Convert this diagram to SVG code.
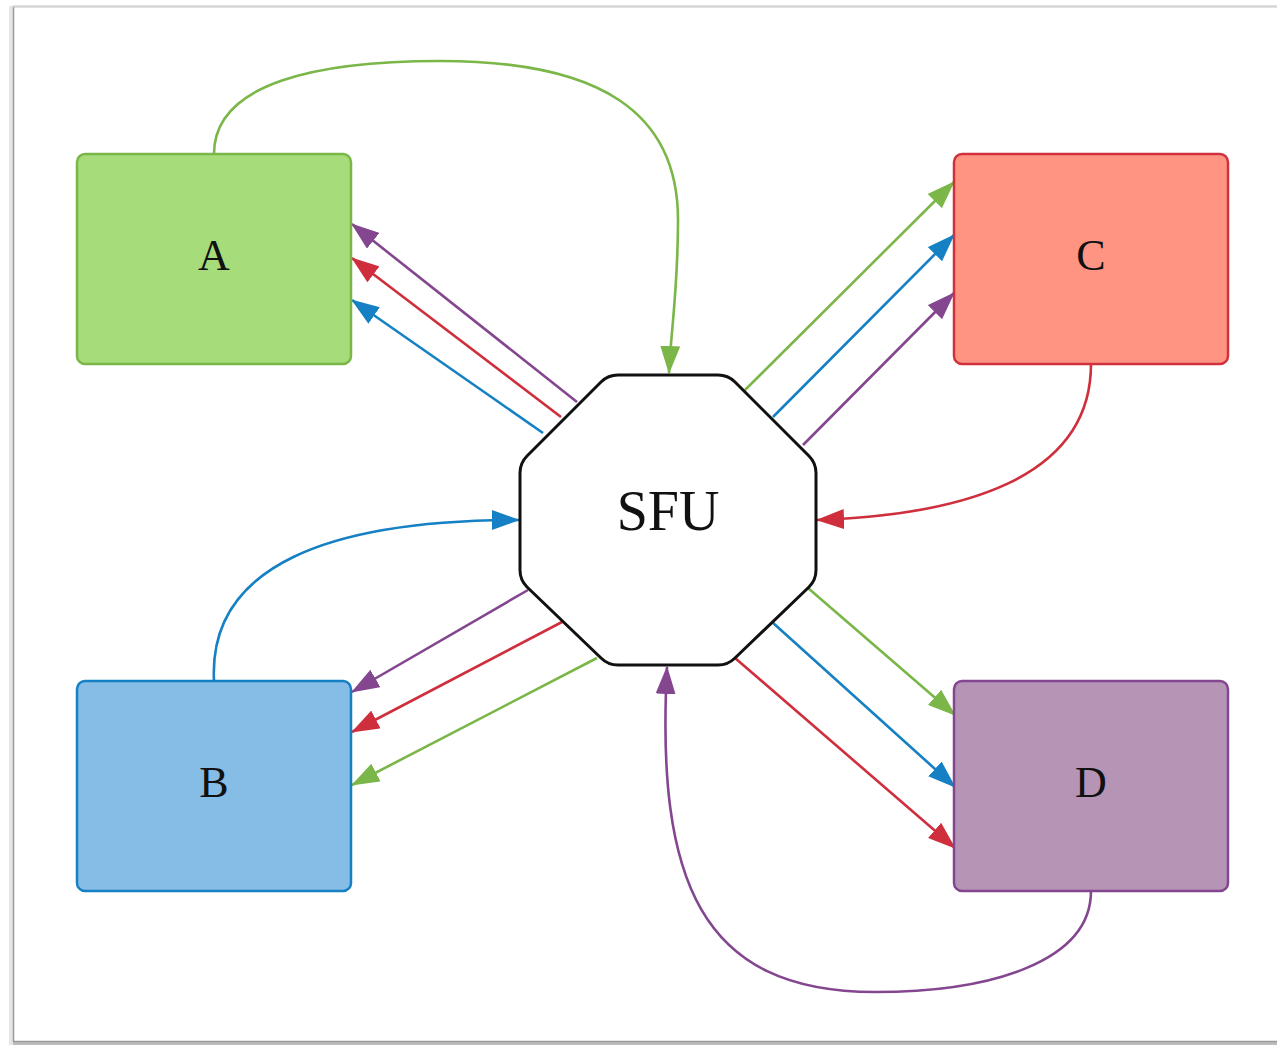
<svg xmlns="http://www.w3.org/2000/svg" width="1277" height="1045" viewBox="0 0 1277 1045">
<style>
.lbl{font-family:"Liberation Serif","Times New Roman",serif;fill:#111;text-anchor:middle}
.node{stroke-width:2.5}
.e{fill:none;stroke-width:2.6}
.g{stroke:#7ab648}.r{stroke:#cf2e3c}.b{stroke:#1580c3}.p{stroke:#83468f}
</style>
<defs>
<marker id="mg" viewBox="0 0 28 20" refX="27" refY="10" markerWidth="28" markerHeight="20" markerUnits="userSpaceOnUse" orient="auto"><path d="M0,0 L28,10 L0,20 z" fill="#7ab648"/></marker>
<marker id="mr" viewBox="0 0 28 20" refX="27" refY="10" markerWidth="28" markerHeight="20" markerUnits="userSpaceOnUse" orient="auto"><path d="M0,0 L28,10 L0,20 z" fill="#cf2e3c"/></marker>
<marker id="mb" viewBox="0 0 28 20" refX="27" refY="10" markerWidth="28" markerHeight="20" markerUnits="userSpaceOnUse" orient="auto"><path d="M0,0 L28,10 L0,20 z" fill="#1580c3"/></marker>
<marker id="mp" viewBox="0 0 28 20" refX="27" refY="10" markerWidth="28" markerHeight="20" markerUnits="userSpaceOnUse" orient="auto"><path d="M0,0 L28,10 L0,20 z" fill="#83468f"/></marker>
</defs>
<rect x="0" y="0" width="1277" height="1045" fill="#ffffff"/>
<g id="frame">
<rect x="9" y="6" width="4" height="1040" fill="#e6e6e6"/>
<rect x="13" y="1042" width="1264" height="3" fill="#bdbdbd"/>
<rect x="13.5" y="6.5" width="1270" height="1035" fill="#ffffff" stroke="#9a9a9a" stroke-width="1.5"/>
<line x1="13" y1="6.5" x2="1277" y2="6.5" stroke="#d4d4d4" stroke-width="1.5"/>
</g>
<g id="connectors">
<path class="e g" d="M214,154 C214,82 320,61 440,61 C600,61 678,112 678,220 C678,290 671,330 669,373" marker-end="url(#mg)"/>
<path class="e r" d="M1091,364 C1091,480 960,515 817,520" marker-end="url(#mr)"/>
<path class="e b" d="M214,681 C208,565 330,520 519,520" marker-end="url(#mb)"/>
<path class="e p" d="M1091,891 C1091,962 990,992 875,992 C700,992 656,880 667,667" marker-end="url(#mp)"/>
<line class="e p" x1="577" y1="402" x2="352" y2="224" marker-end="url(#mp)"/>
<line class="e r" x1="561" y1="417" x2="352" y2="258" marker-end="url(#mr)"/>
<line class="e b" x1="543" y1="433" x2="352" y2="300" marker-end="url(#mb)"/>
<line class="e g" x1="745" y1="390" x2="954" y2="182" marker-end="url(#mg)"/>
<line class="e b" x1="773" y1="417" x2="954" y2="235" marker-end="url(#mb)"/>
<line class="e p" x1="803" y1="445" x2="954" y2="293" marker-end="url(#mp)"/>
<line class="e g" x1="808" y1="588" x2="955" y2="715" marker-end="url(#mg)"/>
<line class="e b" x1="772" y1="622" x2="955" y2="787" marker-end="url(#mb)"/>
<line class="e r" x1="735" y1="658" x2="955" y2="848" marker-end="url(#mr)"/>
<line class="e p" x1="528" y1="590" x2="352" y2="692" marker-end="url(#mp)"/>
<line class="e r" x1="562" y1="622" x2="352" y2="732" marker-end="url(#mr)"/>
<line class="e g" x1="597" y1="658" x2="352" y2="785" marker-end="url(#mg)"/>
</g>
<g id="node-A">
<rect class="node" x="77" y="154" width="274" height="210" rx="8" fill="#a6dc7a" stroke="#7ab648"/>
<text class="lbl" x="214" y="270" font-size="44">A</text>
</g>
<g id="node-C">
<rect class="node" x="954" y="154" width="274" height="210" rx="8" fill="#ff9483" stroke="#d0313d"/>
<text class="lbl" x="1091" y="270" font-size="44">C</text>
</g>
<g id="node-B">
<rect class="node" x="77" y="681" width="274" height="210" rx="8" fill="#86bde6" stroke="#1580c3"/>
<text class="lbl" x="214" y="797" font-size="44">B</text>
</g>
<g id="node-D">
<rect class="node" x="954" y="681" width="274" height="210" rx="8" fill="#b594b6" stroke="#83468f"/>
<text class="lbl" x="1091" y="797" font-size="44">D</text>
</g>
<g id="node-SFU">
<path d="M618,375 L718,375 Q728,375 735,382 L809,456 Q816,463 816,473 L816,570 Q816,580 809,587 L735,658 Q728,665 718,665 L618,665 Q608,665 601,658 L527,587 Q520,580 520,570 L520,473 Q520,463 527,456 L601,382 Q608,375 618,375 Z" fill="#ffffff" stroke="#111" stroke-width="3"/>
<text class="lbl" x="668" y="530" font-size="56">SFU</text>
</g>
</svg>
